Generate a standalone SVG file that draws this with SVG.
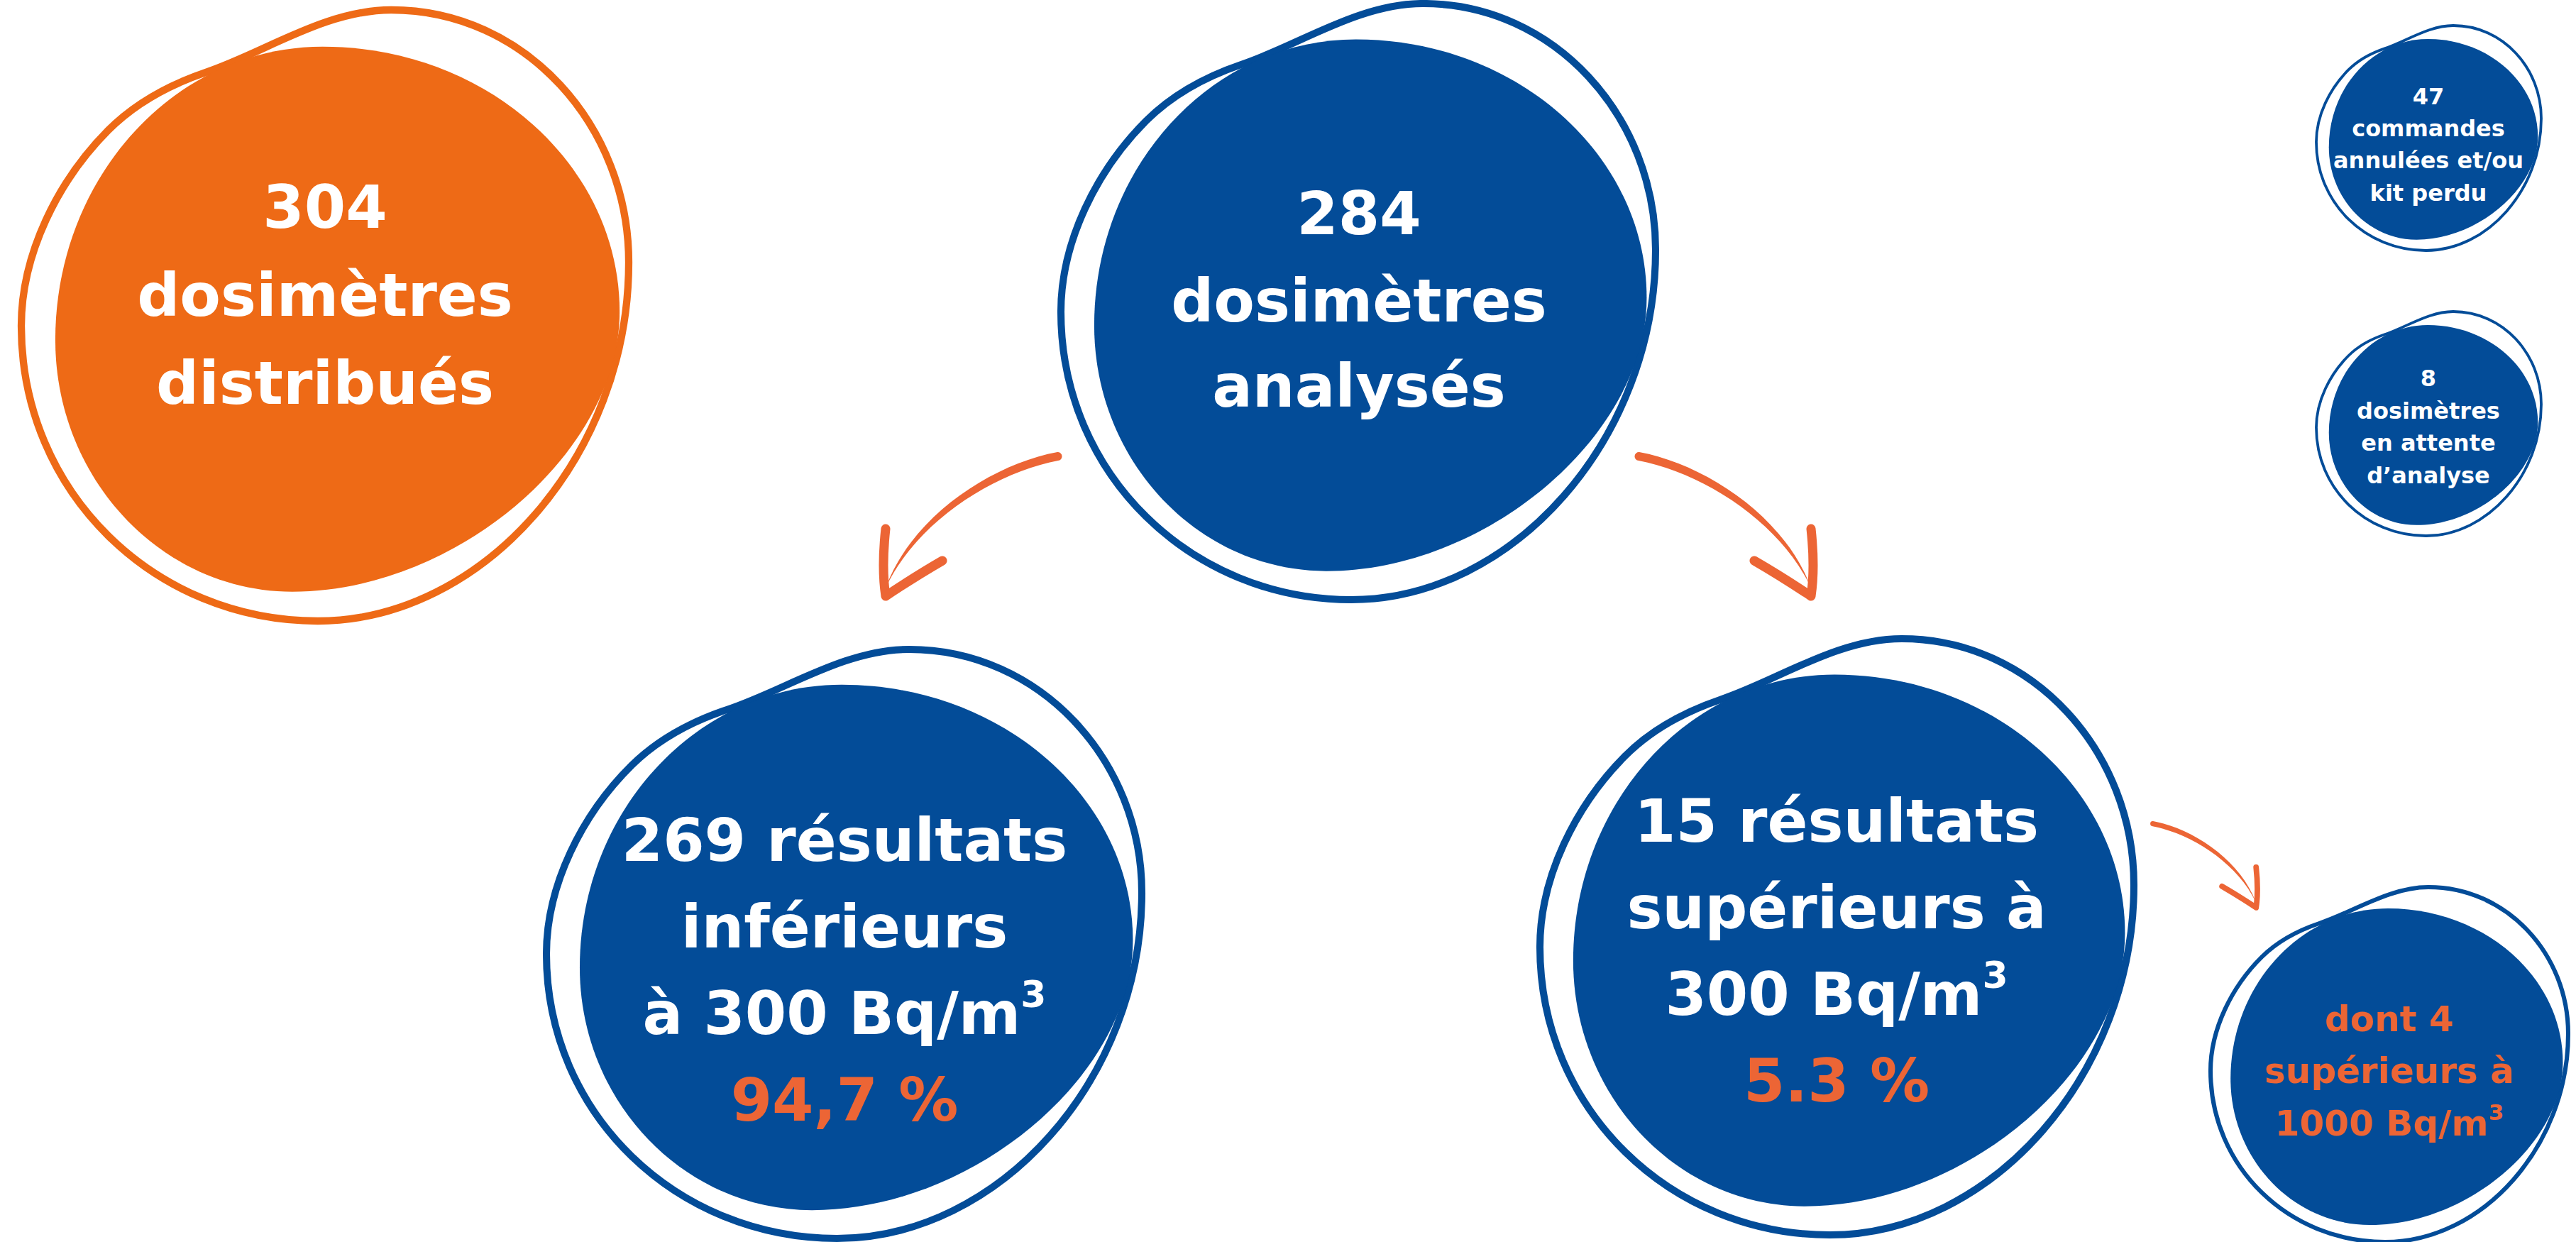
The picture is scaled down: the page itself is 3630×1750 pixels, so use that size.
<svg xmlns="http://www.w3.org/2000/svg" xmlns:xlink="http://www.w3.org/1999/xlink" width="3630" height="1750" viewBox="0 0 3630 1750">
<style>
.bg{fill:#ffffff}
.ringO{fill:none;stroke:#EE6A16}
.discO{fill:#EE6A16}
.ringB{fill:none;stroke:#034C98}
.discB{fill:#034C98}
.arrow{fill:#EC6535}
text{font-family:"DejaVu Sans","Liberation Sans",Arial,sans-serif;font-weight:700;text-anchor:middle}
.big{font-size:84px}
.mid{font-size:50px}
.sm{font-size:32px}
.w{fill:#ffffff}
.o{fill:#EC6535}
</style>
<defs>
<path id="ring" stroke-width="12" stroke-linejoin="round" d="M609,0 C830,0 1000,190 1000,413 C1000,730 760,1000 488,1000 C220,1000 0,790 0,517 C0,400 60,280 143,197 C190,150 245,122 304,102 C400,70 500,0 609,0 Z"/>
<path id="disc" d="M496,60 C766,60 985,254 985,494 C985,723 716,952 446,952 C231,952 56,767 56,540 C56,275 253,60 496,60 Z"/>
<g id="arrow">
<path d="M-240,-210 C-148,-193 -36,-120 1,-21 C-44,-114 -152,-181 -241,-198 A6,6 0 0 1 -240,-210 Z"/>
<path d="M2,-102 Q8,-47 2,-7 Q-40,-35 -78,-57" fill="none" stroke="#EC6535" stroke-width="13" stroke-linecap="round" stroke-linejoin="round"/>
</g>
</defs>
<rect class="bg" x="0" y="0" width="3630" height="1750"/>

<g id="connectors" class="arrow">
<use xlink:href="#arrow" href="#arrow" transform="translate(1250,847) scale(-1,1)"/>
<use xlink:href="#arrow" href="#arrow" transform="translate(2550,847)"/>
<use xlink:href="#arrow" href="#arrow" transform="translate(3178,1283) scale(0.6)"/>
</g>

<g id="node-304">
<use class="ringO" href="#ring" xlink:href="#ring" transform="translate(30,14) scale(0.856,0.861)"/>
<use class="discO" href="#disc" xlink:href="#disc" transform="translate(30,14) scale(0.856,0.861)"/>
<text class="big w" x="458" y="321">304</text>
<text class="big w" x="458" y="445">dosimètres</text>
<text class="big w" x="458" y="569">distribués</text>
</g>

<g id="node-284">
<use class="ringB" href="#ring" xlink:href="#ring" transform="translate(1495,5) scale(0.838,0.840)"/>
<use class="discB" href="#disc" xlink:href="#disc" transform="translate(1495,5) scale(0.838,0.840)"/>
<text class="big w" x="1915" y="330">284</text>
<text class="big w" x="1915" y="453">dosimètres</text>
<text class="big w" x="1915" y="573">analysés</text>
</g>

<g id="node-269">
<use class="ringB" href="#ring" xlink:href="#ring" transform="translate(770,915) scale(0.839,0.830)"/>
<use class="discB" href="#disc" xlink:href="#disc" transform="translate(770,915) scale(0.839,0.830)"/>
<text class="big w" x="1190" y="1213">269 résultats</text>
<text class="big w" x="1190" y="1335">inférieurs</text>
<text class="big w" x="1190" y="1457">à 300 Bq/m<tspan font-size="52" dy="-38">3</tspan></text>
<text class="big o" x="1190" y="1579">94,7 %</text>
</g>

<g id="node-15">
<use class="ringB" href="#ring" xlink:href="#ring" transform="translate(2170,900) scale(0.837,0.840)"/>
<use class="discB" href="#disc" xlink:href="#disc" transform="translate(2170,900) scale(0.837,0.840)"/>
<text class="big w" x="2588" y="1186">15 résultats</text>
<text class="big w" x="2588" y="1308">supérieurs à</text>
<text class="big w" x="2588" y="1430">300 Bq/m<tspan font-size="52" dy="-38">3</tspan></text>
<text class="big o" x="2588" y="1552">5.3 %</text>
</g>

<g id="node-4">
<use class="ringB" href="#ring" xlink:href="#ring" transform="translate(3115,1250) scale(0.504,0.500)"/>
<use class="discB" href="#disc" xlink:href="#disc" transform="translate(3115,1250) scale(0.504,0.500)"/>
<text class="mid o" x="3367" y="1453">dont 4</text>
<text class="mid o" x="3367" y="1526">supérieurs à</text>
<text class="mid o" x="3367" y="1600">1000 Bq/m<tspan font-size="31" dy="-22">3</tspan></text>
</g>

<g id="node-47">
<use class="ringB" href="#ring" xlink:href="#ring" transform="translate(3264,36) scale(0.317,0.317)"/>
<use class="discB" href="#disc" xlink:href="#disc" transform="translate(3264,36) scale(0.317,0.317)"/>
<text class="sm w" x="3422" y="147">47</text>
<text class="sm w" x="3422" y="192">commandes</text>
<text class="sm w" x="3422" y="237">annulées et/ou</text>
<text class="sm w" x="3422" y="283">kit perdu</text>
</g>

<g id="node-8">
<use class="ringB" href="#ring" xlink:href="#ring" transform="translate(3264,439) scale(0.317,0.316)"/>
<use class="discB" href="#disc" xlink:href="#disc" transform="translate(3264,439) scale(0.317,0.316)"/>
<text class="sm w" x="3422" y="544">8</text>
<text class="sm w" x="3422" y="590">dosimètres</text>
<text class="sm w" x="3422" y="635">en attente</text>
<text class="sm w" x="3422" y="681">d’analyse</text>
</g>
</svg>
